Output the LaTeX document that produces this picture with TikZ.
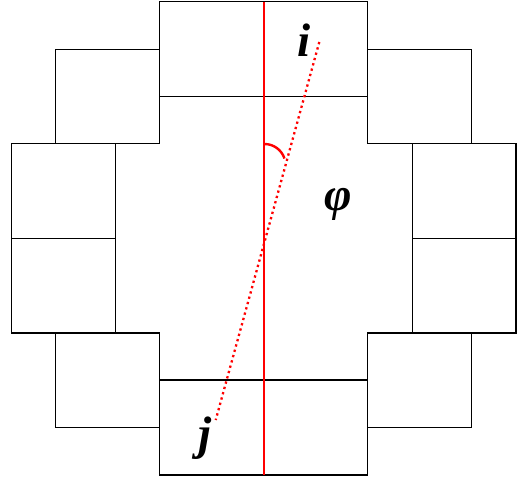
\documentclass[tikz,border=0pt]{standalone}
\usepackage{fontspec}
\setmainfont{Liberation Serif}
\begin{document}
\begin{tikzpicture}[x=1pt,y=-1pt,
  cell/.style={draw=black,line width=1.5pt},
  axisline/.style={draw=red,line width=2.4pt},
  pairline/.style={draw=red,line width=2.3pt,dash pattern=on 2.3pt off 3.2pt},
  lbl/.style={font=\fontsize{47}{47}\selectfont\bfseries\itshape,inner sep=0pt,anchor=base}]
\useasboundingbox (0,0) rectangle (519,480);
% boxes
\draw[cell] (159.5,1.7) rectangle (367.3,96.7);
\draw[cell] (159.5,380) rectangle (367.3,475);
\draw[cell] (55.5,49.3) rectangle (159.5,143.7);
\draw[cell] (367.3,49.3) rectangle (471.3,143.7);
\draw[cell] (11.3,143.7) rectangle (115.3,238.7);
\draw[cell] (11.3,238.7) rectangle (115.3,333);
\draw[cell] (412.3,143.7) rectangle (516,238.7);
\draw[cell] (412.3,238.7) rectangle (516,333);
\draw[cell] (55.5,333) rectangle (159.5,427.7);
\draw[cell] (367.3,333) rectangle (471.3,427.7);
% axis
\coordinate (ax1) at (263.7,1.7);
\coordinate (ax2) at (263.7,475);
\draw[axisline] (ax1) -- (ax2);
% pair line
\coordinate (pi) at (319.3,42);
\coordinate (pj) at (215.7,420);
\draw[pairline] (pi) -- (pj);
% angle arc
\coordinate (ac) at (264.5,165);
\draw[draw=red,line width=2.4pt] ([shift={(-90:21)}]ac) arc[start angle=-90,end angle=-18,radius=21];
% labels
\node[lbl] (li) at (304,56) {i};
\node[lbl] (lj) at (205,449) {j};
\node[lbl] (lphi) at (338,210) {φ};
\end{tikzpicture}
\end{document}
